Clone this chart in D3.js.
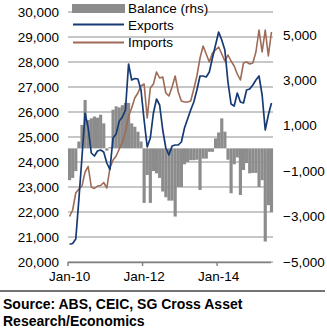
<!DOCTYPE html>
<html><head><meta charset="utf-8">
<script src="https://cdn.jsdelivr.net/npm/d3@7/dist/d3.min.js"></script>
<style>
html,body{margin:0;padding:0;background:#fff;}
text{font-family:"Liberation Sans",Arial,Helvetica,sans-serif;}
</style></head>
<body>
<svg id="chart" width="327" height="329"></svg>
<script>
// ---- data (monthly, Jan-10 .. Jun-15) ----
const months = d3.timeMonth.range(new Date(2010,0,1), new Date(2015,6,1));
const exportsVals = [20710,20740,20920,22500,24200,25950,25360,24360,24240,24440,24480,24400,
  23960,23700,24960,25120,25640,25800,26080,27920,27280,27340,27320,26880,
  25680,24600,24960,25960,26520,26280,25280,24560,24280,24640,24680,24680,
  24800,25360,25720,26080,26400,26880,27440,27440,27400,27600,28160,28680,
  29200,28880,28480,27200,26320,26240,26760,26400,26360,26880,26920,27080,
  27280,27440,26680,25280,25880,26360];
const importsVals = [21820,22080,22760,22920,23040,23600,23820,23000,22940,23040,23060,23180,
  22960,23760,24080,24240,24520,24800,25200,25840,26160,26560,26760,27040,
  27120,25760,26960,27120,27600,27360,27400,26760,26640,27000,27440,26800,
  26440,26400,26400,26440,26920,27440,28160,28640,28320,28000,28360,28480,
  28600,28320,28040,28280,28040,27840,27520,27280,27960,28000,27920,27960,
  28400,29280,28400,29280,28240,29200];
const balanceVals = [-1400,-1300,-1000,300,1030,2130,1250,1320,1400,1350,1480,1100,
  -100,50,1700,1850,1800,1900,2000,2000,1100,950,730,300,
  -2400,-1170,-2400,-1000,-1100,-1300,-1900,-2150,-2300,-2300,-3000,-1700,
  -1700,-700,-600,-520,-520,-500,-1830,-450,-450,-150,-150,440,
  700,1320,735,-500,-1975,-700,-400,-2050,-950,-650,-1100,-1080,
  -1080,-1700,-1400,-4100,-2500,-2800];
const leftTicks = [20000,21000,22000,23000,24000,25000,26000,27000,28000,29000,30000];
const rightTicks = [-5000,-3000,-1000,1000,3000,5000];
const xTickLabels = ["Jan-10","Jan-12","Jan-14"];
const legendLabels = ["Balance (rhs)","Exports","Imports"];
const sourceLines = ["Source: ABS, CEIC, SG Cross Asset","Research/Economics"];

// ---- layout ----
const L = 68, R = 273, T = 12, B = 262;
const colBar = "#8c8c8c", colExp = "#163a73", colImp = "#9e6b57", colGrid = "#b5b5b5";
const FS = 13.5;
const fmtMonth = d3.timeFormat("%b-%y");
const cats = months.map(fmtMonth);

const svg = d3.select("#chart");
const x = d3.scaleBand().domain(cats).range([L, R]).padding(0);
const bw = x.bandwidth();
const yL = d3.scaleLinear().domain([20000, 30000]).range([B, T]);
const yR = d3.scaleLinear().domain([-5000, 6000]).range([B, T]);
const fmt = d3.format(",");

// gridlines
svg.append("g").selectAll("line").data(leftTicks).join("line")
  .attr("x1", L).attr("x2", R).attr("y1", d => yL(d)).attr("y2", d => yL(d))
  .attr("stroke", colGrid).attr("stroke-width", 1.6);

// balance bars
svg.append("g").selectAll("rect").data(balanceVals).join("rect")
  .attr("x", (d, i) => x(cats[i]))
  .attr("width", bw + 0.05)
  .attr("y", d => Math.min(yR(d), yR(0)))
  .attr("height", d => Math.abs(yR(d) - yR(0)))
  .attr("fill", colBar);

// lines
const line = vals => d3.line().x((d, i) => x(cats[i]) + bw / 2).y(d => yL(d))(vals);
svg.append("path").attr("d", line(importsVals)).attr("fill", "none")
  .attr("stroke", colImp).attr("stroke-width", 1.6).attr("stroke-linejoin", "round");
svg.append("path").attr("d", line(exportsVals)).attr("fill", "none")
  .attr("stroke", colExp).attr("stroke-width", 1.7).attr("stroke-linejoin", "round");

// left axis
const axL = d3.axisLeft(yL).tickValues(leftTicks).tickFormat(fmt).tickSize(0).tickPadding(0);
const gL = svg.append("g").attr("transform", `translate(${L - 9},0)`).call(axL);
gL.select(".domain").remove();
gL.selectAll("text").attr("font-size", FS).attr("fill", "#000")
  .attr("font-family", '"Liberation Sans",Arial,sans-serif');

// right axis
const axR = d3.axisRight(yR).tickValues(rightTicks).tickFormat(fmt).tickSize(0).tickPadding(0);
const gR = svg.append("g").attr("transform", `translate(283,0)`).call(axR);
gR.select(".domain").remove();
gR.selectAll("text").attr("font-size", FS).attr("fill", "#000")
  .attr("font-family", '"Liberation Sans",Arial,sans-serif');

// bottom axis
const axB = d3.axisBottom(x).tickValues(xTickLabels.map(s => s)).tickSize(4).tickPadding(5);
const gB = svg.append("g").attr("transform", `translate(0,${B})`).call(axB);
gB.select(".domain").attr("d", `M${L},0.5H${R - 2}`).attr("stroke", "#7f7f7f").attr("stroke-width", 1.6);
gB.selectAll(".tick line").attr("x1", -bw / 2).attr("x2", -bw / 2).attr("stroke", "#7f7f7f").attr("stroke-width", 1.4);
gB.selectAll("text").attr("font-size", FS).attr("fill", "#000")
  .attr("font-family", '"Liberation Sans",Arial,sans-serif');

// legend
const lg = svg.append("g");
lg.append("rect").attr("x", 125).attr("y", 2).attr("width", 82).attr("height", 13).attr("fill", "#fff");
lg.append("rect").attr("x", 72).attr("y", 4).attr("width", 53).attr("height", 9).attr("fill", colBar);
lg.append("line").attr("x1", 73).attr("x2", 124).attr("y1", 24.5).attr("y2", 24.5).attr("stroke", colExp).attr("stroke-width", 1.8);
lg.append("line").attr("x1", 73).attr("x2", 124).attr("y1", 42.5).attr("y2", 42.5).attr("stroke", colImp).attr("stroke-width", 1.8);
const ly = [8, 25, 42.5];
lg.selectAll("text").data(legendLabels).join("text")
  .attr("x", 128).attr("y", (d, i) => ly[i]).attr("dy", "0.35em")
  .attr("font-size", FS).attr("fill", "#000").text(d => d);

// separator + source
svg.append("line").attr("x1", 0).attr("x2", 325).attr("y1", 291).attr("y2", 291)
  .attr("stroke", "#444").attr("stroke-width", 1.6);
svg.append("g").selectAll("text").data(sourceLines).join("text")
  .attr("x", 3).attr("y", (d, i) => 304 + i * 17).attr("dy", "0.35em")
  .attr("font-size", 14).attr("font-weight", "bold").attr("fill", "#000").text(d => d);
</script>
</body></html>
